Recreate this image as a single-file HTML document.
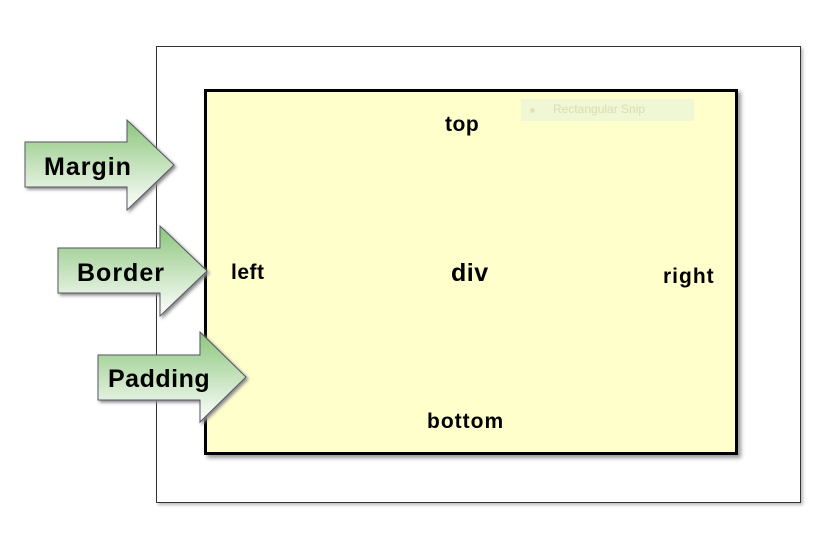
<!DOCTYPE html>
<html><head><meta charset="utf-8"><style>
body{margin:0;width:834px;height:537px;background:#fff;position:relative;overflow:hidden;font-family:"Liberation Sans",Arial,sans-serif}
.abs{position:absolute}
.t{position:absolute;font-weight:bold;color:#000;white-space:nowrap}
</style></head><body>
<div class="abs" style="left:156px;top:46px;width:643px;height:455px;border:1px solid #333;box-shadow:2px 2px 3px #bbb"></div>
<div class="abs" style="left:204px;top:89px;width:528px;height:360px;border:3px solid #000;background:#ffffcc;box-shadow:3px 3px 4px #999"></div>
<div class="abs" style="left:521px;top:99px;width:173px;height:22px;background:#eff7d4"></div>
<div class="abs" style="left:530px;top:108px;width:5px;height:5px;border-radius:50%;background:#e6e2b0"></div>
<div class="t" style="left:553px;top:102px;font-weight:normal;font-size:12px;color:#dcdcb0">Rectangular Snip</div>
<div class="t" style="left:445px;top:113px;font-size:21px;letter-spacing:0.5px">top</div>
<div class="t" style="left:231px;top:261px;font-size:21px;letter-spacing:0.5px">left</div>
<div class="t" style="left:451px;top:259px;font-size:25px;letter-spacing:0.5px">div</div>
<div class="t" style="left:663px;top:265px;font-size:21px;letter-spacing:1px">right</div>
<div class="t" style="left:427px;top:410px;font-size:21px;letter-spacing:1px">bottom</div>
<svg class="abs" style="left:0;top:0" width="834" height="537">
<defs><linearGradient id="g" x1="0" y1="0" x2="0" y2="1"><stop offset="0" stop-color="#8cc67c"/><stop offset="1" stop-color="#ffffff"/></linearGradient>
<filter id="s"><feDropShadow dx="2" dy="2" stdDeviation="1.5" flood-color="#888"/></filter></defs>
<g><polygon points="25,142 127,142 127,120 174,165 127,210 127,187 25,187" fill="url(#g)" stroke="#556" stroke-width="1" filter="url(#s)"/></g>
<g><polygon points="58,248 160,248 160,226 207,271 160,316 160,293 58,293" fill="url(#g)" stroke="#556" stroke-width="1" filter="url(#s)"/></g>
<g><polygon points="98,355 200,355 200,332 246,377 200,422 200,400 98,400" fill="url(#g)" stroke="#556" stroke-width="1" filter="url(#s)"/></g>
<text x="44" y="175" font-family="Liberation Sans" font-weight="bold" font-size="25" letter-spacing="1">Margin</text>
<text x="77" y="281" font-family="Liberation Sans" font-weight="bold" font-size="25" letter-spacing="1">Border</text>
<text x="108" y="387" font-family="Liberation Sans" font-weight="bold" font-size="25" letter-spacing="0.5">Padding</text>
</svg>
</body></html>
